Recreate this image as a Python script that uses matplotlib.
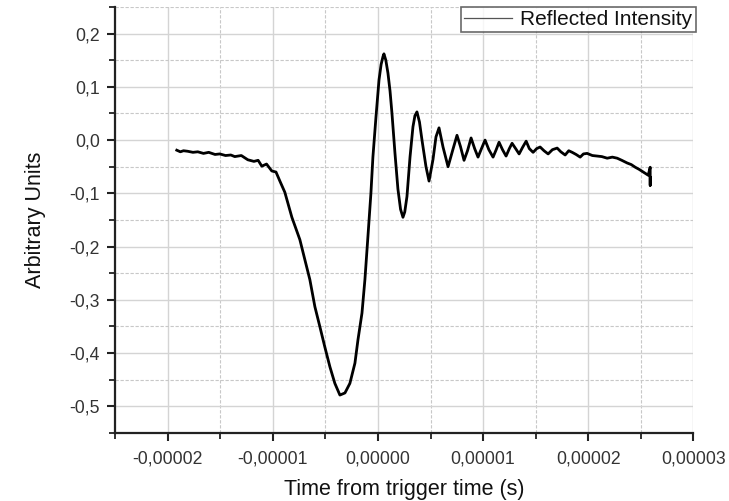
import matplotlib
matplotlib.use('Agg')
import matplotlib.pyplot as plt
from matplotlib.ticker import MultipleLocator, FuncFormatter

plt.rcParams['font.family'] = ['Liberation Sans', 'DejaVu Sans']

# time in microseconds
time_us = [-19.14, -18.80, -18.50, -18.10, -17.60, -17.14, -16.60, -16.10, -15.50, -15.05,
           -14.50, -14.00, -13.62, -13.00, -12.38, -11.80, -11.40, -11.05, -10.60, -10.10,
           -9.70, -9.33, -8.86, -8.19, -7.43, -6.95, -6.48, -6.00, -5.52, -5.05,
           -4.57, -4.10, -3.62, -3.14, -2.67, -2.19, -1.90, -1.52, -1.24, -0.95,
           -0.67, -0.48, -0.19, 0.10, 0.30, 0.48, 0.57, 0.75, 0.95, 1.15,
           1.33, 1.62, 1.90, 2.15, 2.38, 2.55, 2.76, 3.05, 3.33, 3.52,
           3.71, 3.95, 4.19, 4.57, 4.86, 5.24, 5.52, 5.81, 6.19, 6.67,
           7.14, 7.52, 7.85, 8.19, 8.52, 8.86, 9.20, 9.52, 9.85, 10.19,
           10.55, 10.95, 11.25, 11.52, 11.85, 12.19, 12.50, 12.76, 13.10, 13.43,
           13.75, 14.10, 14.40, 14.76, 15.10, 15.43, 15.80, 16.19, 16.60, 17.05,
           17.40, 17.81, 18.15, 18.48, 18.85, 19.24, 19.55, 19.90, 20.40, 20.86,
           21.30, 21.81, 22.30, 22.76, 23.20, 23.71, 24.10, 24.48, 24.85, 25.24,
           25.71, 25.90, 25.90, 25.90]
intensity = [-0.019, -0.022, -0.020, -0.021, -0.023, -0.022, -0.025, -0.023, -0.027, -0.026,
             -0.029, -0.028, -0.031, -0.029, -0.037, -0.040, -0.038, -0.049, -0.045, -0.058,
             -0.060, -0.077, -0.098, -0.145, -0.187, -0.225, -0.262, -0.313, -0.351, -0.389,
             -0.426, -0.457, -0.479, -0.475, -0.457, -0.419, -0.375, -0.325, -0.262, -0.180,
             -0.100, -0.032, 0.043, 0.113, 0.142, 0.157, 0.162, 0.150, 0.126, 0.092,
             0.051, -0.025, -0.092, -0.130, -0.145, -0.135, -0.106, -0.032, 0.025, 0.046,
             0.053, 0.034, 0.000, -0.050, -0.077, -0.036, 0.006, 0.023, -0.013, -0.050,
             -0.017, 0.009, -0.012, -0.038, -0.020, 0.004, -0.016, -0.032, -0.016, 0.000,
             -0.018, -0.032, -0.018, -0.004, -0.018, -0.030, -0.016, -0.006, -0.016, -0.026,
             -0.014, -0.002, -0.016, -0.023, -0.016, -0.013, -0.020, -0.026, -0.018, -0.015,
             -0.022, -0.028, -0.020, -0.023, -0.027, -0.032, -0.026, -0.025, -0.029, -0.030,
             -0.031, -0.034, -0.032, -0.034, -0.038, -0.043, -0.046, -0.051, -0.055, -0.060,
             -0.066, -0.051, -0.085, -0.070]

time_s = [t * 1e-6 for t in time_us]

def x_fmt(v, pos):
    return ('%.5f' % v).replace('.', ',').replace('-0,00000', '0,00000')

def y_fmt(v, pos):
    return ('%.1f' % v).replace('.', ',').replace('-0,0', '0,0')

fig = plt.figure(figsize=(7.29, 5.01), dpi=100)
ax = fig.add_axes([0.158, 0.136, 0.793, 0.850])

ax.plot(time_s, intensity, color='black', lw=2.0, label='Reflected Intensity')

ax.set_xlim(-2.5e-5, 3e-5)
ax.set_ylim(-0.55, 0.25)
ax.xaxis.set_major_locator(MultipleLocator(1e-5))
ax.xaxis.set_minor_locator(MultipleLocator(0.5e-5))
ax.yaxis.set_major_locator(MultipleLocator(0.1))
ax.yaxis.set_minor_locator(MultipleLocator(0.05))
ax.xaxis.set_major_formatter(FuncFormatter(x_fmt))
ax.yaxis.set_major_formatter(FuncFormatter(y_fmt))

ax.grid(which='major', color='#d4d4d4', lw=1.0, ls='-')
ax.grid(which='minor', color='#c8c8c8', lw=0.8, ls=(0, (3, 1.5)))
ax.set_axisbelow(True)

for s in ['top', 'right']:
    ax.spines[s].set_visible(False)
for s in ['left', 'bottom']:
    ax.spines[s].set_linewidth(1.6)
    ax.spines[s].set_color('#222222')

ax.tick_params(which='major', direction='out', length=6, width=1.5, labelsize=12.7,
               labelcolor='#333333', color='#222222', pad=5)
ax.tick_params(axis='x', which='major', pad=7)
ax.tick_params(which='minor', direction='out', length=4, width=1.3, color='#222222')

ax.set_xlabel('Time from trigger time (s)', fontsize=15.5, color='#111111', labelpad=8)
ax.set_ylabel('Arbitrary Units', fontsize=15.5, color='#111111', labelpad=17)

leg = ax.legend(loc='upper right', bbox_to_anchor=(1.004, 1.0), borderaxespad=0,
                fontsize=15, frameon=True, fancybox=False, handlelength=2.3,
                handletextpad=0.4, borderpad=0.15)
leg.get_frame().set_edgecolor('#444444')
leg.get_frame().set_linewidth(1.2)
leg.get_lines()[0].set_linewidth(0.9)
leg.get_lines()[0].set_color('#555555')
for txt in leg.get_texts():
    txt.set_color('#111111')

fig.savefig('out.png', dpi=100)
